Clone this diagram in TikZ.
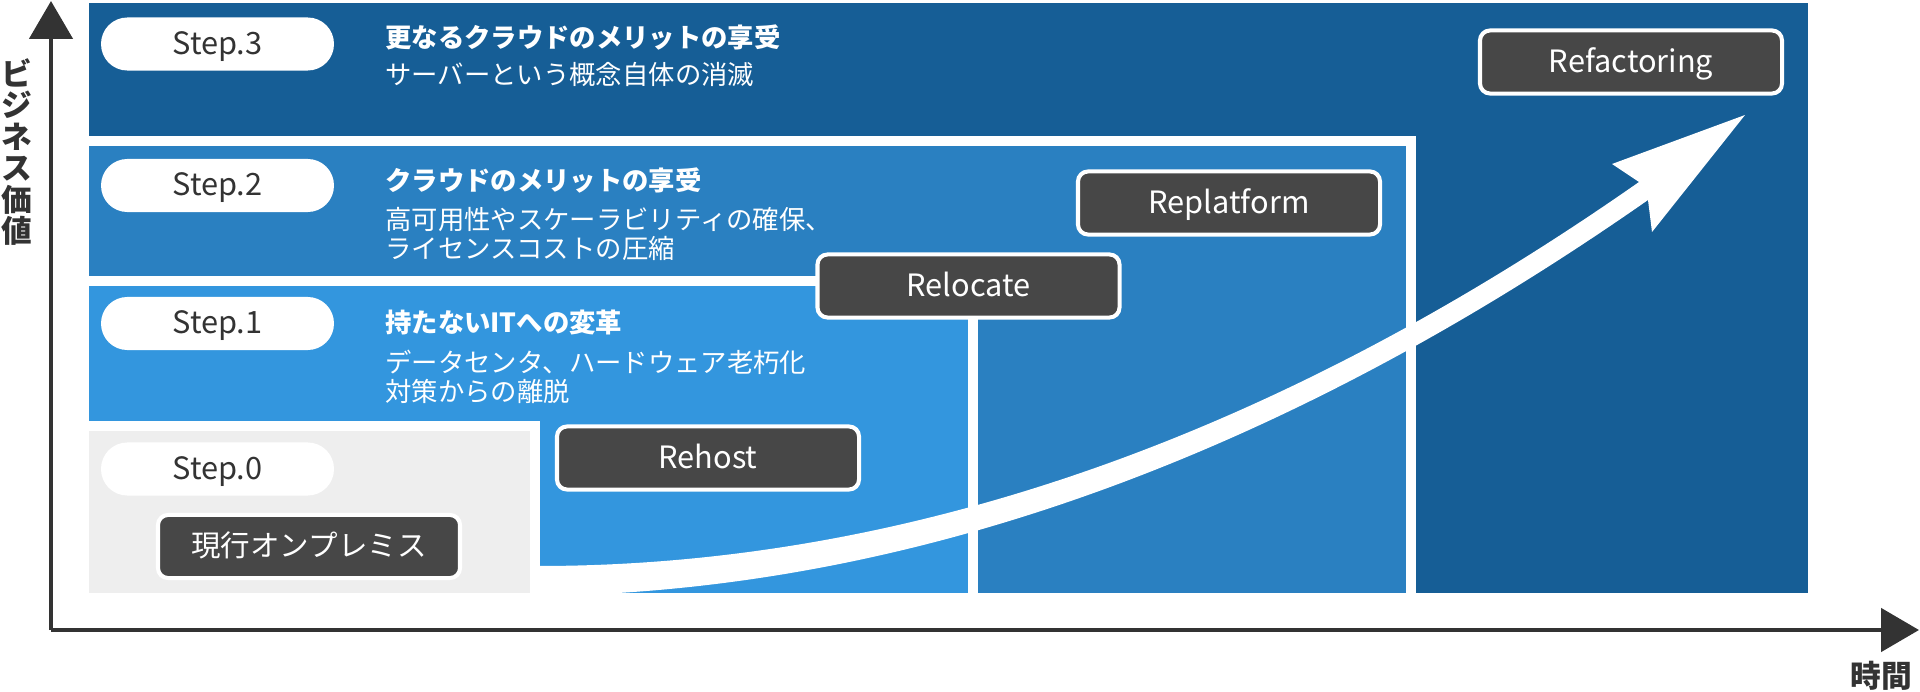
\documentclass[tikz,border=0pt]{standalone}
\usepackage{fontspec}
\setmainfont{Noto Sans CJK JP}
\usepackage{tikz}
\usetikzlibrary{arrows.meta}
\definecolor{stepthree}{RGB}{22,94,150}
\definecolor{steptwo}{RGB}{42,128,193}
\definecolor{stepone}{RGB}{51,150,222}
\definecolor{stepzero}{RGB}{238,238,238}
\definecolor{boxgrey}{RGB}{71,71,71}
\definecolor{axisgrey}{RGB}{51,51,51}
\tikzstyle{band} = [draw=white, line width=5.69pt]
\tikzstyle{pill} = [fill=white, rounded corners=15pt, minimum width=132.6pt, minimum height=30.2pt, inner sep=0pt, text=axisgrey, text height=14pt, text depth=2.6pt, font=\fontsize{17.5pt}{20pt}\selectfont]
\tikzstyle{method} = [fill=boxgrey, draw=white, line width=2.3pt, rounded corners=5.7pt, minimum width=171.9pt, minimum height=35.9pt, inner sep=0pt, text=white, text height=14pt, text depth=2.6pt, font=\fontsize{17.5pt}{20pt}\selectfont]
\tikzstyle{steptitle} = [anchor=west, inner sep=0pt, text=white, font=\fontsize{15pt}{16.2pt}\selectfont\bfseries]
\tikzstyle{stepnote} = [anchor=west, inner sep=0pt, align=left, text=white, font=\fontsize{15pt}{16.2pt}\selectfont]
\tikzstyle{axis} = [line width=2.6pt, color=axisgrey, -{Triangle[length=21.6pt, width=24.5pt]}]

\begin{document}
\begin{tikzpicture}[x=0.02cm, y=-0.02cm]
\useasboundingbox (0,0) rectangle (1920,692);

% Step bands
\fill[stepthree] (89,3) rectangle (1808,593);
\filldraw[band, fill=steptwo] (84,141) rectangle (1411,598);
\filldraw[band, fill=stepone] (84,281) rectangle (973,598);
\filldraw[band, fill=stepzero] (84,426) rectangle (535,598);

% Growth arrow
\coordinate (tailtop) at (538,566);
\coordinate (tailbot) at (618,593);
\coordinate (notchL) at (1639,182);
\coordinate (notchR) at (1648,200);
\coordinate (barbL) at (1612,164);
\coordinate (barbR) at (1652,232);
\coordinate (tip) at (1745,115);
\fill[white] (538,600) -- (tailtop) .. controls (906,566) and (1273,438) .. (notchL)
    -- (barbL) -- (tip) -- (barbR) -- (notchR)
    .. controls (1303,441) and (959,572) .. (tailbot) -- (618,600) -- cycle;

% Step labels
\node[pill] (pill3) at (217.5,44) {Step.3};
\node[pill] (pill2) at (217.5,185.5) {Step.2};
\node[pill] (pill1) at (217.5,323.5) {Step.1};
\node[pill] (pill0) at (217.5,469) {Step.0};

\node[steptitle] (title3) at (385,38) {更なるクラウドのメリットの享受};
\node[stepnote] (note3) at (385,74) {サーバーという概念自体の消滅};
\node[steptitle] (title2) at (385,181) {クラウドのメリットの享受};
\node[stepnote] (note2) at (385,234) {高可用性やスケーラビリティの確保、\\ライセンスコストの圧縮};
\node[steptitle] (title1) at (385,322) {持たないITへの変革};
\node[stepnote] (note1) at (385,377) {データセンタ、ハードウェア老朽化\\対策からの離脱};

% Migration methods
\node[method, font=\fontsize{16.8pt}{20pt}\selectfont, text height=13.5pt] (onprem) at (309,546.5) {現行オンプレミス};
\node[method] (rehost) at (708,458) {Rehost};
\node[method] (relocate) at (968.5,286) {Relocate};
\node[method] (replatform) at (1229,203) {Replatform};
\node[method] (refactoring) at (1631,62) {Refactoring};

% Axes
\coordinate (origin) at (51,630);
\coordinate (ytop) at (51,1);
\coordinate (xend) at (1919,630);
\draw[axis] (origin) -- (ytop);
\draw[axis] (origin) -- (xend);
\node[text=axisgrey, align=center, inner sep=0pt, font=\fontsize{17.5pt}{17.9pt}\selectfont\bfseries] (ylabel) at (17,152) {ビ\\ジ\\ネ\\ス\\価\\値};
\node[text=axisgrey, inner sep=0pt, font=\fontsize{17.5pt}{20pt}\selectfont\bfseries] (xlabel) at (1881,676) {時間};
\end{tikzpicture}
\end{document}
